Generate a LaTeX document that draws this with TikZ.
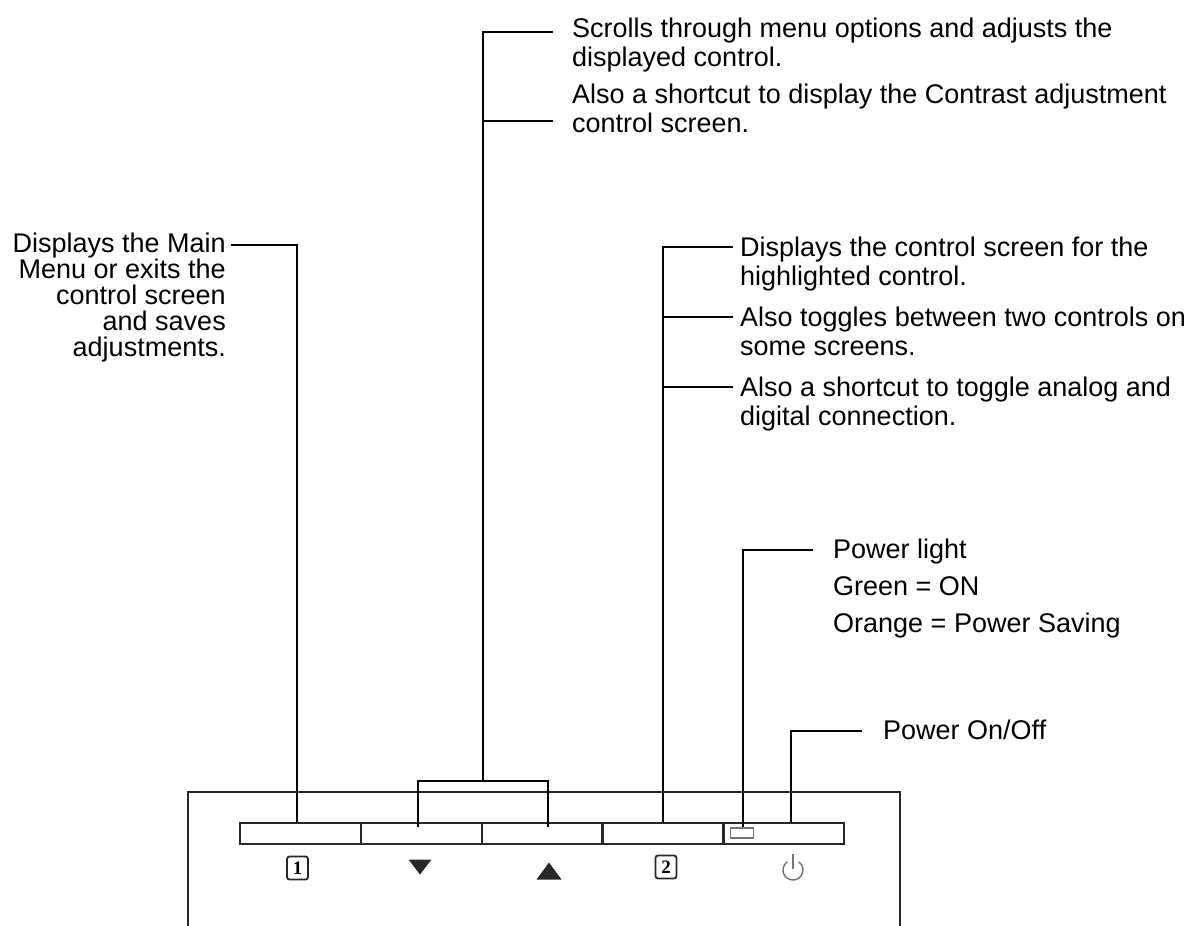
\documentclass[tikz,border=0pt]{standalone}
\usepackage{fontspec}
\setmainfont{Liberation Sans}
\newfontfamily\keyfont{Liberation Serif}
\usepackage{tikz}
\usetikzlibrary{calc, positioning}
\definecolor{bezel}{RGB}{40, 40, 40}
\definecolor{ledgray}{RGB}{115, 115, 115}

\tikzset{
  callout/.style={font=\fontsize{27}{29}\selectfont, inner sep=0pt},
  leader/.style={line width=2.2pt, black},
  frame/.style={line width=2.8pt, bezel},
  keycap/.style={draw=bezel, line width=2.8pt, minimum width=121pt, minimum height=21pt, inner sep=0pt},
  keynum/.style={draw=bezel, line width=1.8pt, rounded corners=2.5pt, minimum width=21pt, minimum height=23pt, inner sep=0pt, font=\fontsize{19}{19}\selectfont\bfseries\keyfont}
}

\begin{document}
\begin{tikzpicture}[x=1pt, y=-1pt]
  \useasboundingbox (0,0) rectangle (1195,926);

  % monitor bezel and the front keys
  \draw[frame] (188,940) |- (900,792) -- (900,940);
  \foreach \i/\xc in {1/300.5, 2/421.5, 3/542.5, 4/663, 5/783.5}
    \node[keycap] (key\i) at (\xc,833.5) {};
  \node[draw=ledgray, line width=1.3pt, minimum width=23pt, minimum height=10pt, inner sep=0pt] (led) at (742,833) {};

  % key symbols
  \node[keynum] (num1) at (297.5,868) {1};
  \fill[bezel] (408.5,859.5) -- (431.5,859.5) -- (420,874.5) -- cycle;
  \fill[bezel] (536.5,879.5) -- (561.5,879.5) -- (549,862.5) -- cycle;
  \node[keynum] (num2) at (666,867) {2};
  \draw[ledgray, line width=1.4pt] (793,870) ++(305:10) arc (305:595:10);
  \draw[ledgray, line width=1.4pt] (793,854) -- (793,869);

  % callout texts (anchored on the baseline of their last line)
  \node[callout, anchor=base east, align=right, font=\fontsize{27}{26}\selectfont] (exitTxt) at (226,356)
    {Displays the Main\\Menu or exits the\\control screen\\and saves\\adjustments.};
  \node[callout, anchor=base west, align=left] (scrollTxt) at (572,66)
    {Scrolls through menu options and adjusts the\\displayed control.};
  \node[callout, anchor=base west, align=left] (contrastTxt) at (572,132)
    {Also a shortcut to display the Contrast adjustment\\control screen.};
  \node[callout, anchor=base west, align=left] (selectTxt) at (740,285)
    {Displays the control screen for the\\highlighted control.};
  \node[callout, anchor=base west, align=left] (toggleTxt) at (740,355)
    {Also toggles between two controls on\\some screens.};
  \node[callout, anchor=base west, align=left] (inputTxt) at (740,425)
    {Also a shortcut to toggle analog and\\digital connection.};
  \node[callout, anchor=base west] (ledTxt) at (833,558) {Power light};
  \node[callout, anchor=base west] (greenTxt) at (833,595) {Green = ON};
  \node[callout, anchor=base west] (orangeTxt) at (833,632) {Orange = Power Saving};
  \node[callout, anchor=base west] (powerTxt) at (883,739) {Power On/Off};

  % leader lines
  \coordinate (exitStart) at (231,245);
  \coordinate (exitEnd) at (297,245);
  \draw[leader] (exitStart) -- (exitEnd) -- (exitEnd |- key1.north);

  \coordinate (scrollTop) at (483,32);
  \coordinate (scrollMid) at (483,121);
  \coordinate (bracket) at (483,781);
  \draw[leader] (553,32) -- (scrollTop) -- (bracket);
  \draw[leader] (scrollMid) -- (553,121);
  \draw[leader] (418,827) |- (bracket) -| (548,827);

  \coordinate (selectTop) at (663,247);
  \draw[leader] (733,247) -- (selectTop) -- (selectTop |- key4.north);
  \draw[leader] (663,317) -- (733,317);
  \draw[leader] (663,387) -- (733,387);

  \coordinate (ledTop) at (743,550);
  \draw[leader] (813,550) -- (ledTop) -- (ledTop |- led.north);

  \coordinate (powerTop) at (791,731);
  \draw[leader] (862,731) -- (powerTop) -- (powerTop |- key5.north);
\end{tikzpicture}
\end{document}
